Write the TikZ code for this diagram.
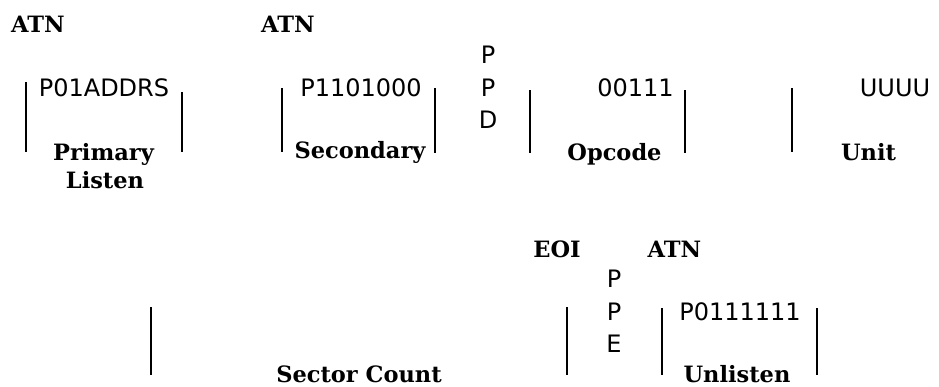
\documentclass[tikz,border=0pt]{standalone}
\usepackage{fontspec}
\setmainfont{DejaVu Sans}
\newfontfamily\lblfont{DejaVu Serif}
\begin{document}
\begin{tikzpicture}[x=1pt,y=-1pt,
  reg/.style={font=\fontsize{24}{28}\selectfont, inner sep=0pt, anchor=base},
  lbl/.style={font=\lblfont\bfseries\fontsize{22.5}{26}\selectfont, inner sep=0pt, anchor=base},
  bar/.style={line width=2.8pt}]
\useasboundingbox (0,0) rectangle (939,386);
% row 1
\node[lbl] (atn1) at (38,32) {ATN};
\node[lbl] (atn2) at (288,32) {ATN};
\node[reg] (pla) at (104,96) {P01ADDRS};
\node[lbl] (prim) at (103.5,160) {Primary};
\node[lbl] (lis) at (105,188) {Listen};
\node[reg] (sa) at (361,96) {P1101000};
\node[lbl] (sec) at (360,158) {Secondary};
\node[reg] (ppd1) at (488,63.5) {P};
\node[reg] (ppd2) at (488,96) {P};
\node[reg] (ppd3) at (488,128) {D};
\node[reg] (opv) at (635.5,96) {00111};
\node[lbl] (opc) at (614.5,160) {Opcode};
\node[reg] (uv) at (895,96) {UUUU};
\node[lbl] (unit) at (868.5,160) {Unit};
\draw[bar] (26,82) -- (26,152);
\draw[bar] (182,92) -- (182,152);
\draw[bar] (282,88) -- (282,152);
\draw[bar] (435,88) -- (435,153);
\draw[bar] (530,90) -- (530,153);
\draw[bar] (685,90) -- (685,153);
\draw[bar] (792,88) -- (792,152);
% row 2
\node[lbl] (sc) at (359,382) {Sector Count};
\node[lbl] (eoi) at (557,257) {EOI};
\node[lbl] (atn3) at (674.5,257) {ATN};
\node[reg] (ppe1) at (614,287) {P};
\node[reg] (ppe2) at (614,320) {P};
\node[reg] (ppe3) at (614,352) {E};
\node[reg] (ulv) at (740,320) {P0111111};
\node[lbl] (unl) at (737,382) {Unlisten};
\draw[bar] (151,307) -- (151,375);
\draw[bar] (567,307) -- (567,375);
\draw[bar] (662,308) -- (662,375);
\draw[bar] (817,308) -- (817,375);
\end{tikzpicture}
\end{document}
